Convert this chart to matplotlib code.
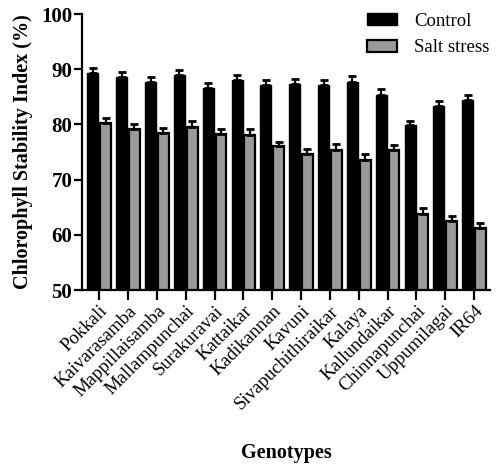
import matplotlib
matplotlib.use("Agg")
import matplotlib.pyplot as plt
import numpy as np

genotypes = ["Pokkali", "Kaivarasamba", "Mappillaisamba", "Mallampunchai",
             "Surakuravai", "Kattaikar", "Kadikannan", "Kavuni",
             "Sivapuchithiraikar", "Kalaya", "Kallundaikar", "Chinnapunchai",
             "Uppumilagai", "IR64"]
control = [89.4, 88.5, 87.6, 88.9, 86.6, 88.0, 87.1, 87.4, 87.1, 87.7, 85.4, 79.9, 83.4, 84.4]
control_err = [0.9, 1.0, 0.9, 1.0, 0.9, 1.0, 0.9, 0.9, 0.9, 1.0, 1.0, 0.8, 0.9, 0.9]
salt = [80.2, 79.2, 78.5, 79.6, 78.3, 78.1, 76.0, 74.6, 75.4, 73.6, 75.4, 63.8, 62.5, 61.2]
salt_err = [0.9, 0.9, 0.9, 1.0, 0.9, 1.0, 0.9, 0.9, 1.0, 1.0, 0.9, 1.0, 0.9, 0.9]

plt.rcParams["font.family"] = ["Liberation Serif", "DejaVu Serif"]

fig = plt.figure(figsize=(4.96, 4.66), dpi=100)
ax = fig.add_axes([82 / 496, 1 - 290 / 466, (490 - 82) / 496, (290 - 14) / 466])

x = np.arange(len(genotypes))
width = 0.38
off = 0.22

ax.bar(x - off, control, width, color="black", edgecolor="black",
       linewidth=1.0, label="Control", zorder=2)
ax.bar(x + off, salt, width, color="#9a9a9a", edgecolor="black",
       linewidth=1.6, label="Salt stress", zorder=2)

ax.errorbar(x - off, control, yerr=[np.zeros(len(x)), control_err], fmt="none",
            ecolor="black", elinewidth=1.6, capsize=3, capthick=2, zorder=3)
ax.errorbar(x + off, salt, yerr=[np.zeros(len(x)), salt_err], fmt="none",
            ecolor="black", elinewidth=1.6, capsize=3, capthick=2, zorder=3)

ax.set_ylim(50, 100)
ax.set_xlim(-0.6, 13.55)
ax.set_yticks([50, 60, 70, 80, 90, 100])
ax.set_xticks(x)
ax.set_xticklabels(genotypes, rotation=45, ha="right", rotation_mode="anchor",
                   fontsize=13.5)
for lbl in ax.get_yticklabels():
    lbl.set_fontweight("bold")
    lbl.set_fontsize(15)

ax.spines["top"].set_visible(False)
ax.spines["right"].set_visible(False)
ax.spines["left"].set_linewidth(1.6)
ax.spines["bottom"].set_linewidth(1.6)
ax.tick_params(axis="y", width=1.6, length=6, pad=1)
ax.tick_params(axis="x", width=1.6, length=7, pad=2)

ax.set_ylabel("Chlorophyll Stability Index (%)", fontsize=14.5, fontweight="bold",
              labelpad=6)
ax.set_xlabel("Genotypes", fontsize=14.5, fontweight="bold", labelpad=22)

ax.legend(loc="upper right", bbox_to_anchor=(1.04, 1.065), frameon=False,
          fontsize=13.5, handlelength=1.6, handleheight=0.6, labelspacing=0.5,
          handletextpad=0.9)

fig.savefig("out.png", dpi=100)
